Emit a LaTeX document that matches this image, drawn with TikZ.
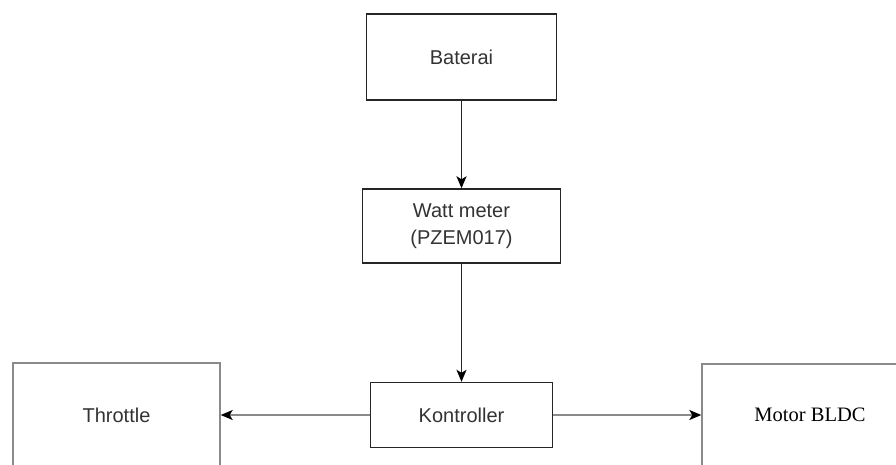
\documentclass[tikz,border=0pt]{standalone}
\usepackage{fontspec}
\setmainfont{Liberation Serif}
\setsansfont{Liberation Sans}
\usetikzlibrary{arrows.meta}
\definecolor{txtgray}{HTML}{333333}
\definecolor{boxgray}{HTML}{8A8A8A}
\begin{document}
\begin{tikzpicture}[x=1pt,y=-1pt]
        \tikzstyle{block}=[rectangle,draw=black!85,line width=1.4pt,fill=white,inner sep=0pt,font=\sffamily\fontsize{20}{27}\selectfont,text=txtgray,align=center]
        \tikzstyle{outblock}=[block,draw=boxgray]
        \tikzstyle{edge}=[draw=black!85,line width=1.5pt,-{Stealth[length=12pt,width=10pt,inset=3pt,color=black]}]
        \useasboundingbox (0,0) rectangle (896,464);
        \clip (0,0) rectangle (896,464);
        \begin{scope}
                \node [block,minimum width=190pt,minimum height=86pt] (bat) at (461.5,57) {Baterai};
                \node [block,minimum width=198pt,minimum height=74pt] (watt) at (461.5,226) {Watt meter\\(PZEM017)};
                \node [block,minimum width=182pt,minimum height=65pt] (ctrl) at (461.5,415) {Kontroller};
                \node [outblock,minimum width=207pt,minimum height=104pt] (thr) at (116.5,415) {Throttle};
                \node [outblock,minimum width=216pt,minimum height=102pt,font=\rmfamily\fontsize{20.5}{24}\selectfont,text=black] (mot) at (810,415) {Motor BLDC};
                \path (bat) edge [edge] (watt);
                \path (watt) edge [edge] (ctrl);
                \path (ctrl) edge [edge,draw=boxgray] (thr);
                \path (ctrl) edge [edge,draw=boxgray] (mot);
        \end{scope}
\end{tikzpicture}
\end{document}
